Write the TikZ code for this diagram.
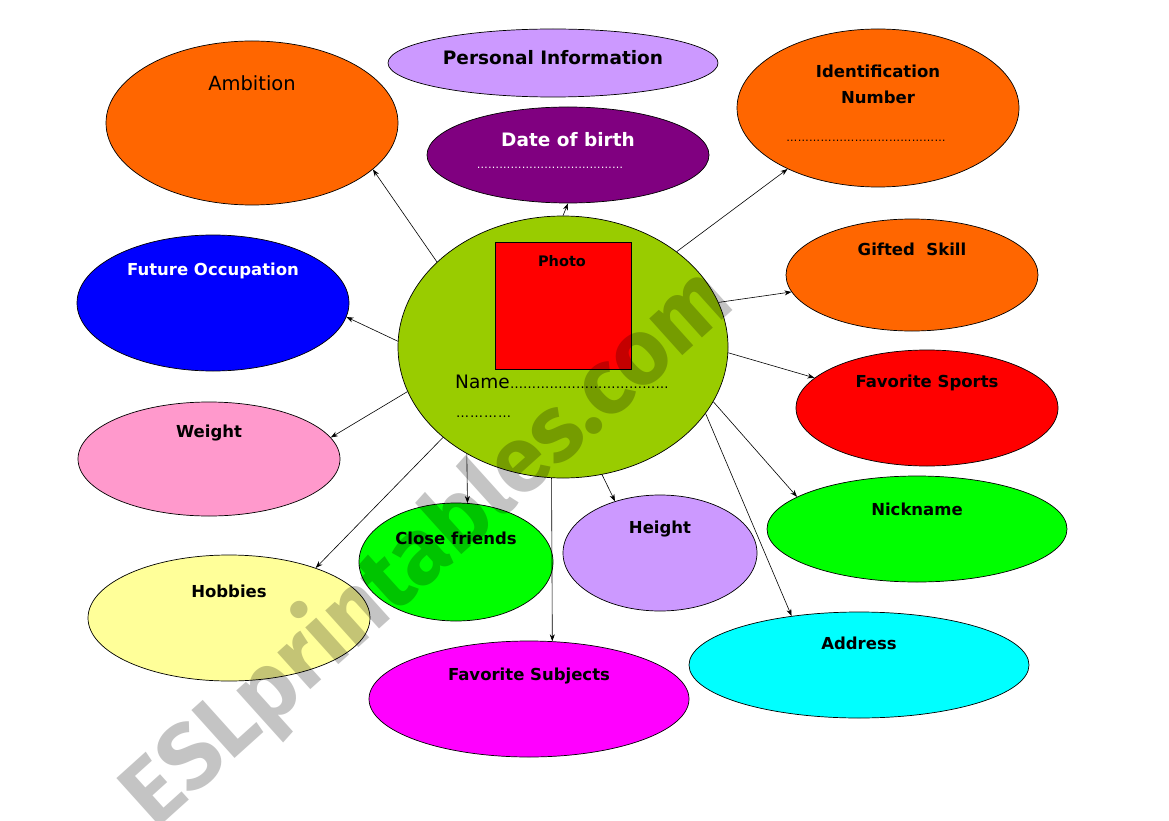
\documentclass[tikz,border=0pt]{standalone}
\usepackage{fontspec}
\setmainfont{DejaVu Sans}
\newfontfamily\wmfont{Fira Sans}
\usetikzlibrary{shapes.geometric,arrows.meta}
\definecolor{lilac}{HTML}{CC99FF}
\definecolor{dpurple}{HTML}{800080}
\definecolor{orng}{HTML}{FF6600}
\definecolor{olivegreen}{HTML}{99CC00}
\definecolor{bgreen}{HTML}{00FF00}
\definecolor{pinkish}{HTML}{FF99CC}
\definecolor{paleyellow}{HTML}{FFFF99}
\definecolor{aqua}{HTML}{00FFFF}
\definecolor{fuchsia}{HTML}{FF00FF}
\definecolor{pureblue}{HTML}{0000FF}
\definecolor{purered}{HTML}{FF0000}
\definecolor{wmgray}{HTML}{C4C4C4}
\newcommand\ellline[1]{\makebox[#1][l]{\xleaders\hbox{…}\hfill}}
\begin{document}
\begin{tikzpicture}[x=1pt,y=-1pt,
  ell/.style={ellipse, draw=black, line width=0.7pt, inner sep=0pt},
  lbl/.style={font=\bfseries\fontsize{16.5}{19}\selectfont, text=black, inner sep=0pt},
  biglbl/.style={font=\bfseries\fontsize{18.5}{22}\selectfont, text=black, inner sep=0pt},
  conn/.style={-{Stealth[length=7pt,width=5pt]}, line width=0.6pt}]
\useasboundingbox (0,0) rectangle (1169,821);
\fill[white] (0,0) rectangle (1169,821);

% ellipses
\node[ell, fill=lilac, minimum width=330pt, minimum height=68pt] (pi) at (553,63) {};
\node[ell, fill=dpurple, minimum width=282pt, minimum height=96pt] (dob) at (568,155) {};
\node[ell, fill=orng, minimum width=292pt, minimum height=164pt] (amb) at (252,123) {};
\node[ell, fill=orng, minimum width=282pt, minimum height=158pt] (idn) at (878,108) {};
\node[ell, fill=olivegreen, minimum width=330pt, minimum height=262pt] (c) at (563,347) {};
\node[ell, fill=orng, minimum width=252pt, minimum height=112pt] (gift) at (912,275) {};
\node[ell, fill=pureblue, minimum width=272pt, minimum height=136pt] (fo) at (213,303) {};
\node[ell, fill=purered, minimum width=262pt, minimum height=116pt] (fs) at (927,408) {};
\node[ell, fill=pinkish, minimum width=262pt, minimum height=114pt] (wt) at (209,459) {};
\node[ell, fill=bgreen, minimum width=300pt, minimum height=106pt] (nick) at (917,529) {};
\node[ell, fill=bgreen, minimum width=194pt, minimum height=118pt] (cf) at (456,562) {};
\node[ell, fill=lilac, minimum width=194pt, minimum height=116pt] (ht) at (660,553) {};
\node[ell, fill=paleyellow, minimum width=282pt, minimum height=126pt] (hob) at (229,618) {};
\node[ell, fill=aqua, minimum width=340pt, minimum height=106pt] (addr) at (859,665) {};
\node[ell, fill=fuchsia, minimum width=320pt, minimum height=116pt] (fsub) at (529,699) {};

% photo
\node[draw=black, line width=0.7pt, fill=purered, minimum width=136pt, minimum height=127pt, inner sep=0pt] (photo) at (563,305.5) {};

% labels
\node[biglbl] (tpi) at (553,58) {Personal Information};
\node[biglbl, text=white] (tdob) at (568,140) {Date of birth};
\node[text=white, inner sep=0pt, font=\fontsize{11}{12}\selectfont] (ddob) at (550,168) {\ellline{147pt}};
\node[font=\fontsize{19.5}{23}\selectfont, inner sep=0pt] (tamb) at (252,83) {Ambition};
\node[lbl, align=center, font=\bfseries\fontsize{16.5}{26}\selectfont] (tidn) at (878,84) {Identification\\Number};
\node[inner sep=0pt, font=\fontsize{11}{12}\selectfont] (didn) at (866,141) {\ellline{160pt}};
\node[lbl, font=\bfseries\fontsize{14.5}{16}\selectfont] (tphoto) at (562,261) {Photo};
\node[font=\fontsize{18.5}{23}\selectfont, inner sep=0pt, anchor=base west] (tname) at (455,388) {Name{\fontsize{13}{14}\selectfont\ellline{159pt}}};
\node[font=\fontsize{13}{14}\selectfont, inner sep=0pt, anchor=base west] (tname2) at (455,417) {\ellline{57pt}};
\node[lbl] (tgift) at (912,249) {Gifted\ \ Skill};
\node[lbl, text=white] (tfo) at (213,271) {Future Occupation};
\node[lbl] (tfs) at (927,383) {Favorite Sports};
\node[lbl] (twt) at (209,433) {Weight};
\node[lbl] (tnick) at (917,509) {Nickname};
\node[lbl] (tcf) at (456,538) {Close friends};
\node[lbl] (tht) at (660,529) {Height};
\node[lbl] (thob) at (229,591) {Hobbies};
\node[lbl] (taddr) at (859,643) {Address};
\node[lbl] (tfsub) at (529,676) {Favorite Subjects};

% connectors
\draw[conn] (c.146) -- (amb.-21);
\draw[conn] (c.north) -- (dob.south);
\draw[conn] (c.40) -- (idn.214);
\draw[conn] (c.16) -- (gift.188);
\draw[conn] (c.178) -- (fo.-6);
\draw[conn] (c.-2) -- (fs.165);
\draw[conn] (c.196) -- (wt.10);
\draw[conn] (c.-20) -- (nick.165);
\draw[conn] (c.-25) -- (addr.144);
\draw[conn] (c.-73) -- (ht.131);
\draw[conn] (c.-95) -- (fsub.68);
\draw[conn] (c.228) -- (cf.79);
\draw[conn] (c.217) -- (hob.30);

% watermark
\begin{scope}[blend mode=multiply]
\node[text=wmgray, font=\wmfont\bfseries\fontsize{93}{95}\selectfont, rotate=42, inner sep=0pt] (wm) at (428,548) {ESLprintables.com};
\end{scope}
\end{tikzpicture}
\end{document}
